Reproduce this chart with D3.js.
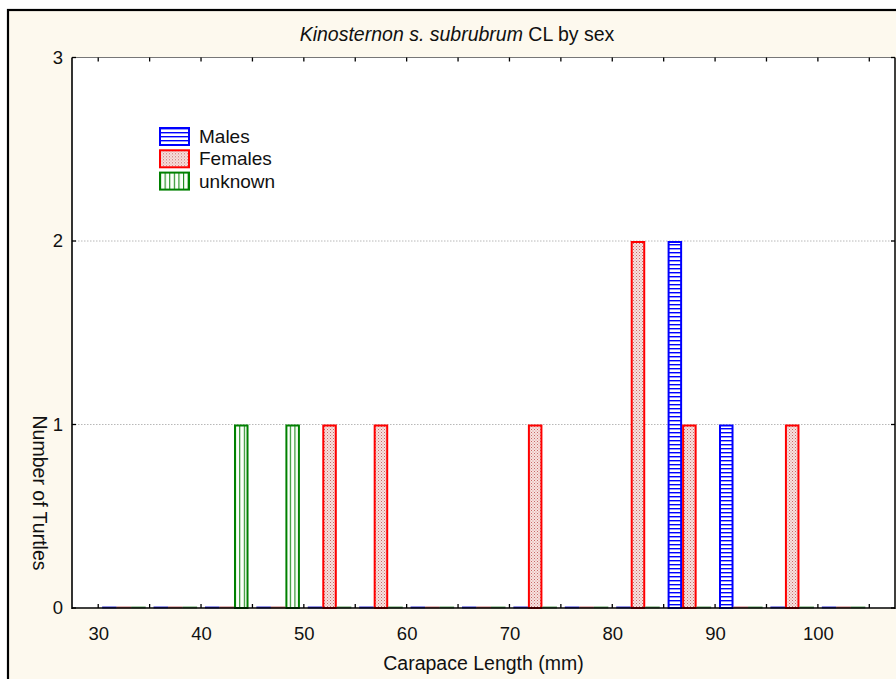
<!DOCTYPE html>
<html>
<head>
<meta charset="utf-8">
<script src="https://cdn.jsdelivr.net/npm/d3@7"></script>
<style>
  html, body { margin: 0; padding: 0; background: #ffffff; }
  svg { display: block; }
  text { font-family: "Liberation Sans", Arial, sans-serif; fill: #111; }
</style>
</head>
<body>
<svg id="chart" width="896" height="679"></svg>
<script>
// ---- Data ----
const binStarts = [30, 35, 40, 45, 50, 55, 60, 65, 70, 75, 80, 85, 90, 95, 100];
const binWidth = 5;
const males   = [0, 0, 0, 0, 0, 0, 0, 0, 0, 0, 0, 2, 1, 0, 0];
const females = [0, 0, 0, 0, 1, 1, 0, 0, 1, 0, 2, 1, 0, 1, 0];
const unknown = [0, 0, 1, 1, 0, 0, 0, 0, 0, 0, 0, 0, 0, 0, 0];
const seriesNames = ["Males", "Females", "unknown"];
const xTickLabels = [30, 40, 50, 60, 70, 80, 90, 100];
const xMinorTicks = [30, 35, 40, 45, 50, 55, 60, 65, 70, 75, 80, 85, 90, 95, 100, 105];
const yTicks = [0, 1, 2, 3];
const titleItalic = "Kinosternon s. subrubrum";
const titleRest = " CL by sex";
const xTitle = "Carapace Length (mm)";
const yTitle = "Number of Turtles";

const seriesValues = { Males: males, Females: females, unknown: unknown };

const svg = d3.select("#chart");
const W = 896, H = 679;
const plot = { left: 72, right: 895, top: 57.5, bottom: 608 };

const x = d3.scaleLinear().domain([27.45, 107.5]).range([plot.left, plot.right]);
const y = d3.scaleLinear().domain([0, 3]).range([plot.bottom, plot.top]);

const colors = { Males: "#0000ff", Females: "#ff0000", unknown: "#008000" };
const baseColors = { Males: "#2b2bd0", Females: "#c06a6a", unknown: "#5a9a5a" };

// ---- Patterns ----
const defs = svg.append("defs");
const pM = defs.append("pattern").attr("id", "pat-Males").attr("patternUnits", "userSpaceOnUse")
  .attr("width", 8).attr("height", 4);
pM.append("rect").attr("width", 8).attr("height", 4).attr("fill", "#ffffff");
pM.append("rect").attr("y", 0).attr("width", 8).attr("height", 1.4).attr("fill", "#0000ff");

const pF = defs.append("pattern").attr("id", "pat-Females").attr("patternUnits", "userSpaceOnUse")
  .attr("width", 3).attr("height", 3);
pF.append("rect").attr("width", 3).attr("height", 3).attr("fill", "#f7e2df");
pF.append("rect").attr("x", 0).attr("y", 0).attr("width", 1).attr("height", 1).attr("fill", "#c86868");
pF.append("rect").attr("x", 1.5).attr("y", 1.5).attr("width", 1).attr("height", 1).attr("fill", "#d88c8c");

const pU = defs.append("pattern").attr("id", "pat-unknown").attr("patternUnits", "userSpaceOnUse")
  .attr("width", 4.6).attr("height", 8);
pU.append("rect").attr("width", 4.6).attr("height", 8).attr("fill", "#fbfff9");
pU.append("rect").attr("x", 0).attr("width", 1.1).attr("height", 8).attr("fill", "#1a8a1a");

// ---- Background & frame ----
svg.append("rect").attr("x", 0).attr("y", 0).attr("width", W).attr("height", H).attr("fill", "#ffffff");
svg.append("rect").attr("x", 8).attr("y", 10).attr("width", W + 20).attr("height", H + 20)
  .attr("fill", "#fdf9ee").attr("stroke", "#000").attr("stroke-width", 2.2);

// plot area
svg.append("rect").attr("x", plot.left).attr("y", plot.top)
  .attr("width", plot.right - plot.left).attr("height", plot.bottom - plot.top)
  .attr("fill", "#ffffff");

// ---- Gridlines ----
svg.append("g").selectAll("line").data(yTicks.filter(d => d > 0 && d < 3)).join("line")
  .attr("x1", plot.left).attr("x2", plot.right)
  .attr("y1", d => y(d)).attr("y2", d => y(d))
  .attr("stroke", "#b8b8b8").attr("stroke-width", 1).attr("stroke-dasharray", "1.5,1.5");

// ---- Bars ----
const sub = d3.scaleBand().domain(seriesNames).paddingInner(0).paddingOuter(0.27);
const barsG = svg.append("g");
const barData = [];
binStarts.forEach((b, i) => {
  seriesNames.forEach(s => {
    barData.push({ bin: b, series: s, value: seriesValues[s][i] });
  });
});
barData.forEach(d => {
  sub.range([x(d.bin), x(d.bin + binWidth)]);
  const x0 = sub(d.series), bw = sub.bandwidth();
  if (d.value > 0) {
    barsG.append("rect")
      .attr("x", x0 + 1).attr("y", y(d.value) + 1)
      .attr("width", bw - 2).attr("height", y(0) - y(d.value) - 1)
      .attr("fill", `url(#pat-${d.series})`)
      .attr("stroke", colors[d.series]).attr("stroke-width", 2);
  } else {
    barsG.append("line")
      .attr("x1", x0).attr("x2", x0 + bw)
      .attr("y1", y(0) - 0.5).attr("y2", y(0) - 0.5)
      .attr("stroke", baseColors[d.series]).attr("stroke-width", 2);
  }
});

// ---- Axes frame lines ----
svg.append("line").attr("x1", plot.left).attr("x2", plot.right).attr("y1", plot.top).attr("y2", plot.top)
  .attr("stroke", "#777").attr("stroke-width", 1);
svg.append("line").attr("x1", plot.right).attr("x2", plot.right).attr("y1", plot.top).attr("y2", plot.bottom + 1)
  .attr("stroke", "#000").attr("stroke-width", 1.5);
svg.append("line").attr("x1", plot.left).attr("x2", plot.left).attr("y1", plot.top).attr("y2", plot.bottom + 1)
  .attr("stroke", "#000").attr("stroke-width", 1.6);

// bottom axis
const xAxis = d3.axisBottom(x).tickValues(xTickLabels).tickSize(0).tickPadding(19).tickFormat(d3.format("d"));
const gx = svg.append("g").attr("transform", `translate(0,${plot.bottom})`).call(xAxis);
gx.select(".domain").remove();
gx.selectAll("text").style("font-size", "18.5px").style("font-family", "'Liberation Sans', Arial, sans-serif").attr("fill", "#111");

svg.append("line").attr("x1", plot.left).attr("x2", plot.right).attr("y1", plot.bottom).attr("y2", plot.bottom)
  .attr("stroke", "#000").attr("stroke-width", 1.6);

// minor ticks bottom (inward) and top (inward)
svg.append("g").selectAll("line").data(xMinorTicks).join("line")
  .attr("x1", d => x(d)).attr("x2", d => x(d))
  .attr("y1", plot.bottom).attr("y2", plot.bottom - 4)
  .attr("stroke", "#000").attr("stroke-width", 1.3);
svg.append("g").selectAll("line").data(xMinorTicks).join("line")
  .attr("x1", d => x(d)).attr("x2", d => x(d))
  .attr("y1", plot.top).attr("y2", plot.top + 4)
  .attr("stroke", "#000").attr("stroke-width", 1.3);

// left axis
const yAxis = d3.axisLeft(y).tickValues(yTicks).tickSize(0).tickPadding(9).tickFormat(d3.format("d"));
const gy = svg.append("g").attr("transform", `translate(${plot.left},0)`).call(yAxis);
gy.select(".domain").remove();
gy.selectAll("text").style("font-size", "18.5px").style("font-family", "'Liberation Sans', Arial, sans-serif").attr("fill", "#111");
svg.append("g").selectAll("line").data(yTicks).join("line")
  .attr("x1", plot.left).attr("x2", plot.left + 4)
  .attr("y1", d => y(d)).attr("y2", d => y(d))
  .attr("stroke", "#000").attr("stroke-width", 1.3);
svg.append("g").selectAll("line").data(yTicks).join("line")
  .attr("x1", plot.right).attr("x2", plot.right - 4)
  .attr("y1", d => y(d)).attr("y2", d => y(d))
  .attr("stroke", "#000").attr("stroke-width", 1.3);

// ---- Titles ----
const t = svg.append("text").attr("x", 457).attr("y", 41).attr("text-anchor", "middle")
  .style("font-size", "19.5px");
t.append("tspan").style("font-style", "italic").text(titleItalic);
t.append("tspan").text(titleRest);

svg.append("text").attr("x", (plot.left + plot.right) / 2 - 0).attr("y", 670)
  .attr("text-anchor", "middle").style("font-size", "19.5px").text(xTitle);

svg.append("text").attr("transform", "translate(33,493) rotate(90)")
  .attr("text-anchor", "middle").style("font-size", "19.5px").text(yTitle);

// ---- Legend ----
const legend = svg.append("g").attr("transform", "translate(160,128)");
seriesNames.forEach((s, i) => {
  const g = legend.append("g").attr("transform", `translate(0,${i * 22.3})`);
  g.append("rect").attr("x", 0).attr("y", 0).attr("width", 29).attr("height", 17)
    .attr("fill", `url(#pat-${s})`).attr("stroke", colors[s]).attr("stroke-width", 2);
  g.append("text").attr("x", 39).attr("y", 15).style("font-size", "19px").text(s);
});
</script>
</body>
</html>
